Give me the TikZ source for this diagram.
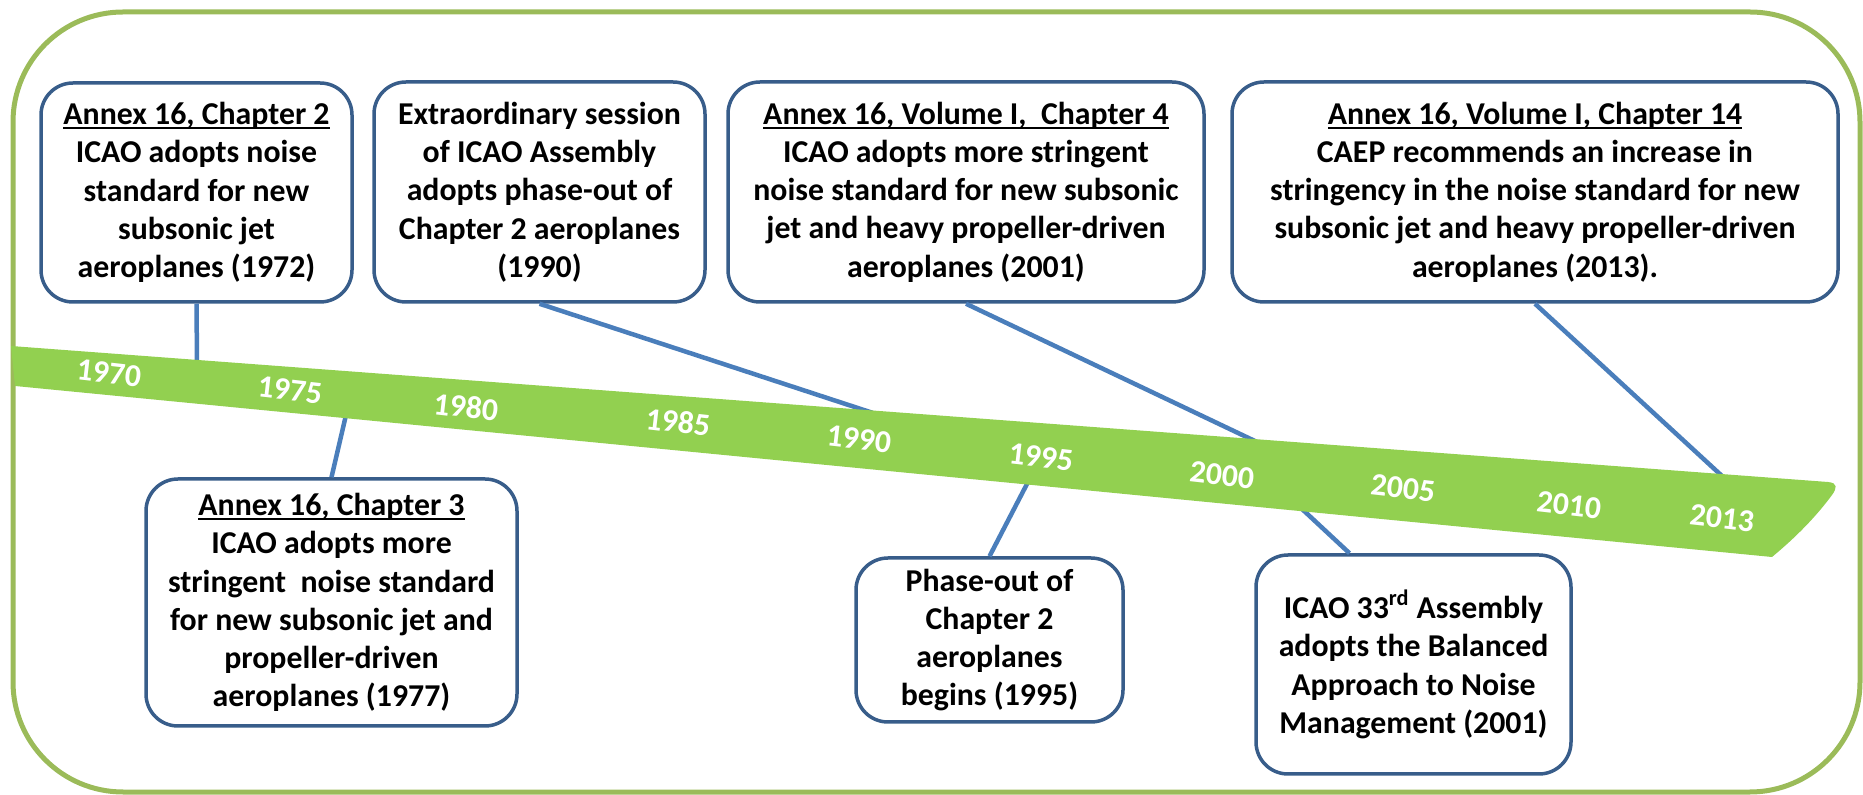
\documentclass[tikz,border=0pt]{standalone}
\usepackage{fontspec}
\setmainfont{Carlito}
\usepackage{tikz}
\definecolor{framegreen}{RGB}{155,187,89}
\definecolor{bandgreen}{RGB}{146,208,80}
\definecolor{boxblue}{RGB}{56,93,138}
\definecolor{stemblue}{RGB}{74,126,187}
\newcommand{\headline}[1]{\setbox0\hbox{#1}\rlap{\rule[-0.14em]{\wd0}{0.06em}}\box0}

\begin{document}
\begin{tikzpicture}[x=0.5pt, y=-0.5pt,
	event/.style={draw=boxblue, line width=1.75pt, rounded corners=16pt, fill=white, align=center, inner sep=0pt, font=\fontsize{15.9}{19.15}\selectfont\bfseries},
	year/.style={text=white, rotate=-6.5, inner sep=0pt, font=\fontsize{15.9}{18}\selectfont\bfseries},
	stem/.style={draw=stemblue, line width=2.25pt}]
	\useasboundingbox (0,0) rectangle (1863,795);
	\draw[framegreen, line width=2.5pt, rounded corners=55pt] (13,12) rectangle (1860,792);
	% boxes above the band
	\node[event, minimum width=155.5pt, minimum height=109.5pt] (ch2) at (196.5,192.5) {\headline{Annex 16, Chapter 2}\\ICAO adopts noise\\standard for new\\subsonic jet\\aeroplanes (1972)};
	\node[event, minimum width=165.5pt, minimum height=110pt] (session) at (539.5,192) {Extraordinary session\\of ICAO Assembly\\adopts phase-out of\\Chapter 2 aeroplanes\\(1990)};
	\node[event, minimum width=238pt, minimum height=110pt] (ch4) at (966,192) {\headline{Annex 16, Volume I,\ \ Chapter 4}\\ICAO adopts more stringent\\noise standard for new subsonic\\jet and heavy propeller-driven\\aeroplanes (2001)};
	\node[event, minimum width=303pt, minimum height=110pt] (ch14) at (1535,192) {\headline{Annex 16, Volume I, Chapter 14}\\CAEP recommends an increase in\\stringency in the noise standard for new\\subsonic jet and heavy propeller-driven\\aeroplanes (2013).};
	% boxes below the band
	\node[event, minimum width=185.5pt, minimum height=123.5pt] (ch3) at (331.5,602.5) {\headline{Annex 16, Chapter 3}\\ICAO adopts more\\stringent\ \ noise standard\\for new subsonic jet and\\propeller-driven\\aeroplanes (1977)};
	\node[event, minimum width=133.5pt, minimum height=82pt] (phaseout) at (989.5,640) {Phase-out of\\Chapter 2\\aeroplanes\\begins (1995)};
	\node[event, minimum width=157.5pt, minimum height=109.5pt] (balanced) at (1413.5,664.5) {ICAO 33\textsuperscript{rd} Assembly\\adopts the Balanced\\Approach to Noise\\Management (2001)};
	% ends on the band
	\coordinate (t1972) at (197,362);
	\coordinate (t1990) at (873,413);
	\coordinate (t2001) at (1257,442);
	\coordinate (t2013) at (1722,476);
	\coordinate (t1977) at (346,415);
	\coordinate (t1995) at (1028,482);
	\coordinate (t2001b) at (1302,509);
	\draw[stem] (ch2.south) -- (t1972);
	\draw[stem] (session.south) -- (t1990);
	\draw[stem] (ch4.south) -- (t2001);
	\draw[stem] (ch14.south) -- (t2013);
	\draw[stem] (ch3.north) -- (t1977);
	\draw[stem] (phaseout.north) -- (t1995);
	\draw[stem] ([xshift=-32pt]balanced.north) -- (t2001b);
	% timeline band
	\fill[bandgreen] (11,346) -- (1828,482) .. controls (1838,483) and (1837,488) .. (1832,495) .. controls (1812,522) and (1790,542) .. (1772,557) -- (15,386) -- cycle;
	\foreach \yr/\x/\y in {1970/109/373, 1975/290/390, 1980/466/407, 1985/678/422, 1990/859/439, 1995/1041/457, 2000/1222/475, 2005/1403/488, 2010/1569/505, 2013/1722/518}{
		\node[year] (y\yr) at (\x,\y) {\yr};
	}
\end{tikzpicture}
\end{document}
